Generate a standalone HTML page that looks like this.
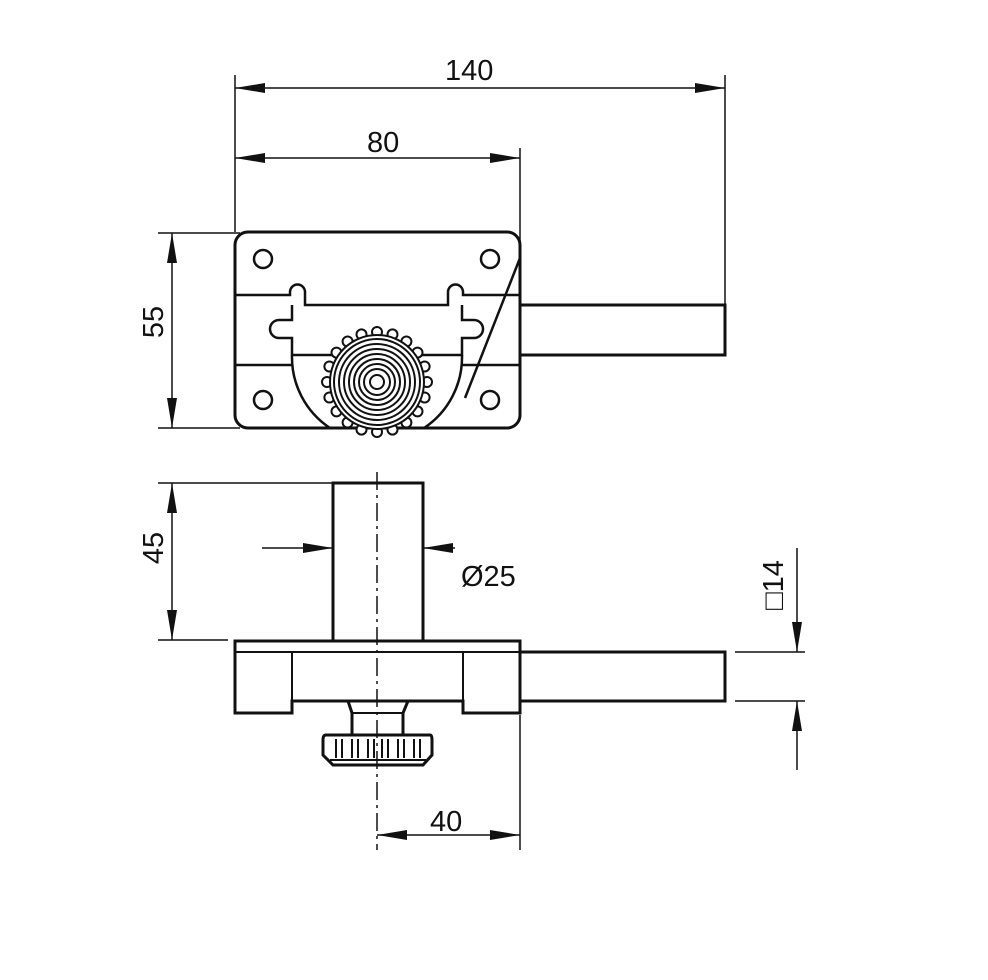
<!DOCTYPE html>
<html><head><meta charset="utf-8"><style>html,body{margin:0;padding:0;background:#fff}svg{display:block}text{font-family:"Liberation Sans",sans-serif;font-size:29px;fill:#111}</style></head>
<body>
<svg width="988" height="980" viewBox="0 0 988 980" xmlns="http://www.w3.org/2000/svg">
<defs>
<marker id="a" viewBox="0 0 30 10" refX="30" refY="5" markerWidth="30" markerHeight="10" markerUnits="userSpaceOnUse" orient="auto-start-reverse"><path d="M0,0 L30,5 L0,10 Z" fill="#111"/></marker>
</defs>
<g stroke="#111" fill="none" stroke-width="1.5">
<line x1="235" y1="75" x2="235" y2="232"/>
<line x1="725" y1="75" x2="725" y2="305"/>
<line x1="520" y1="148" x2="520" y2="258"/>
<line x1="235" y1="88" x2="725" y2="88" marker-start="url(#a)" marker-end="url(#a)"/>
<line x1="235" y1="158" x2="520" y2="158" marker-start="url(#a)" marker-end="url(#a)"/>
<line x1="158" y1="233" x2="240" y2="233"/>
<line x1="158" y1="428" x2="240" y2="428"/>
<line x1="172" y1="233" x2="172" y2="428" marker-start="url(#a)" marker-end="url(#a)"/>
</g>
<g stroke="#111" fill="none" stroke-width="3">
<rect x="235" y="232" width="285" height="196" rx="13"/>
<path d="M520,305 H725 V355 H520"/>
</g>
<g stroke="#111" fill="none" stroke-width="2.5">
<circle cx="263" cy="259" r="9"/><circle cx="490" cy="259" r="9"/>
<circle cx="263" cy="400" r="9"/><circle cx="490" cy="400" r="9"/>
<path d="M235,295 H290 V292 A7.5,7.5 0 0 1 305,292 V305 H448 V292 A7.5,7.5 0 0 1 463,292 V295 H520"/>
<path d="M292,305 V320 H279 A9,9 0 0 0 279,338 H292 V355 H462 V338 H474 A9,9 0 0 0 474,320 H462 V305"/>
<path d="M235,365 H292 M462,365 H520"/>
<path d="M292,355 A85,85 0 0 0 330,428 M462,355 A85,85 0 0 1 424,428"/>
<line x1="520" y1="258" x2="465" y2="398"/>
</g>
<g stroke="#111" stroke-width="2" fill="#fff">
<circle cx="427" cy="382" r="5"/><circle cx="424.6" cy="397.5" r="5"/><circle cx="417.5" cy="411.4" r="5"/><circle cx="406.4" cy="422.5" r="5"/><circle cx="392.5" cy="429.6" r="5"/><circle cx="377" cy="432" r="5"/><circle cx="361.5" cy="429.6" r="5"/><circle cx="347.6" cy="422.5" r="5"/><circle cx="336.5" cy="411.4" r="5"/><circle cx="329.4" cy="397.5" r="5"/><circle cx="327" cy="382" r="5"/><circle cx="329.4" cy="366.5" r="5"/><circle cx="336.5" cy="352.6" r="5"/><circle cx="347.6" cy="341.5" r="5"/><circle cx="361.5" cy="334.4" r="5"/><circle cx="377" cy="332" r="5"/><circle cx="392.5" cy="334.4" r="5"/><circle cx="406.4" cy="341.5" r="5"/><circle cx="417.5" cy="352.6" r="5"/><circle cx="424.6" cy="366.5" r="5"/>
<circle cx="377" cy="382" r="47"/>
<circle cx="377" cy="382" r="43"/>
<circle cx="377" cy="382" r="38"/>
<circle cx="377" cy="382" r="33"/>
<circle cx="377" cy="382" r="28"/>
<circle cx="377" cy="382" r="23"/>
<circle cx="377" cy="382" r="18"/>
<circle cx="377" cy="382" r="13"/>
<circle cx="377" cy="382" r="7"/>
</g>
<g stroke="#111" fill="none" stroke-width="1.5">
<line x1="158" y1="483" x2="333" y2="483"/>
<line x1="158" y1="640" x2="228" y2="640"/>
<line x1="172" y1="483" x2="172" y2="640" marker-start="url(#a)" marker-end="url(#a)"/>
<line x1="262" y1="548" x2="333" y2="548" marker-end="url(#a)"/>
<line x1="455" y1="548" x2="423" y2="548" marker-end="url(#a)"/>
<line x1="735" y1="652" x2="805" y2="652"/>
<line x1="735" y1="701" x2="805" y2="701"/>
<line x1="797" y1="548" x2="797" y2="652" marker-end="url(#a)"/>
<line x1="797" y1="770" x2="797" y2="701" marker-end="url(#a)"/>
<line x1="520" y1="715" x2="520" y2="850"/>
<line x1="377" y1="835" x2="520" y2="835" marker-start="url(#a)" marker-end="url(#a)"/>
<line x1="377" y1="472" x2="377" y2="850" stroke-dasharray="18,5,3,5"/>
</g>
<g stroke="#111" fill="none" stroke-width="3">
<path d="M333,641 V483 H423 V641"/>
<path d="M235,641 H520 V713 H463 V701 H292 V713 H235 Z"/>
<path d="M520,652 H725 V701 H520"/>
<path d="M348,701 L352,713 V735 M408,701 L403,713 V735"/>
<path d="M326,735 H430 Q432,735 432,740 V755 L423,765 H333 L323,755 V740 Q323,735 326,735 Z"/>
</g>
<g stroke="#111" fill="none" stroke-width="2">
<line x1="235" y1="652" x2="520" y2="652"/>
<line x1="292" y1="652" x2="292" y2="701"/>
<line x1="463" y1="652" x2="463" y2="701"/>
<line x1="352" y1="713" x2="403" y2="713"/>
<line x1="330" y1="760" x2="426" y2="760"/>
<path d="M336,739 V758 M342,739 V758 M352,739 V758 M358,739 V758 M368,739 V758 M374,739 V758 M382,739 V758 M388,739 V758 M398,739 V758 M404,739 V758 M414,739 V758 M420,739 V758"/>
</g>
<text x="445" y="80">140</text>
<text x="367" y="152">80</text>
<text transform="translate(163,322) rotate(-90)" text-anchor="middle">55</text>
<text transform="translate(163,548) rotate(-90)" text-anchor="middle">45</text>
<text x="461" y="586">Ø25</text>
<text x="430" y="831">40</text>
<text transform="translate(783,585) rotate(-90)" text-anchor="middle">□14</text>
</svg>
</body></html>
